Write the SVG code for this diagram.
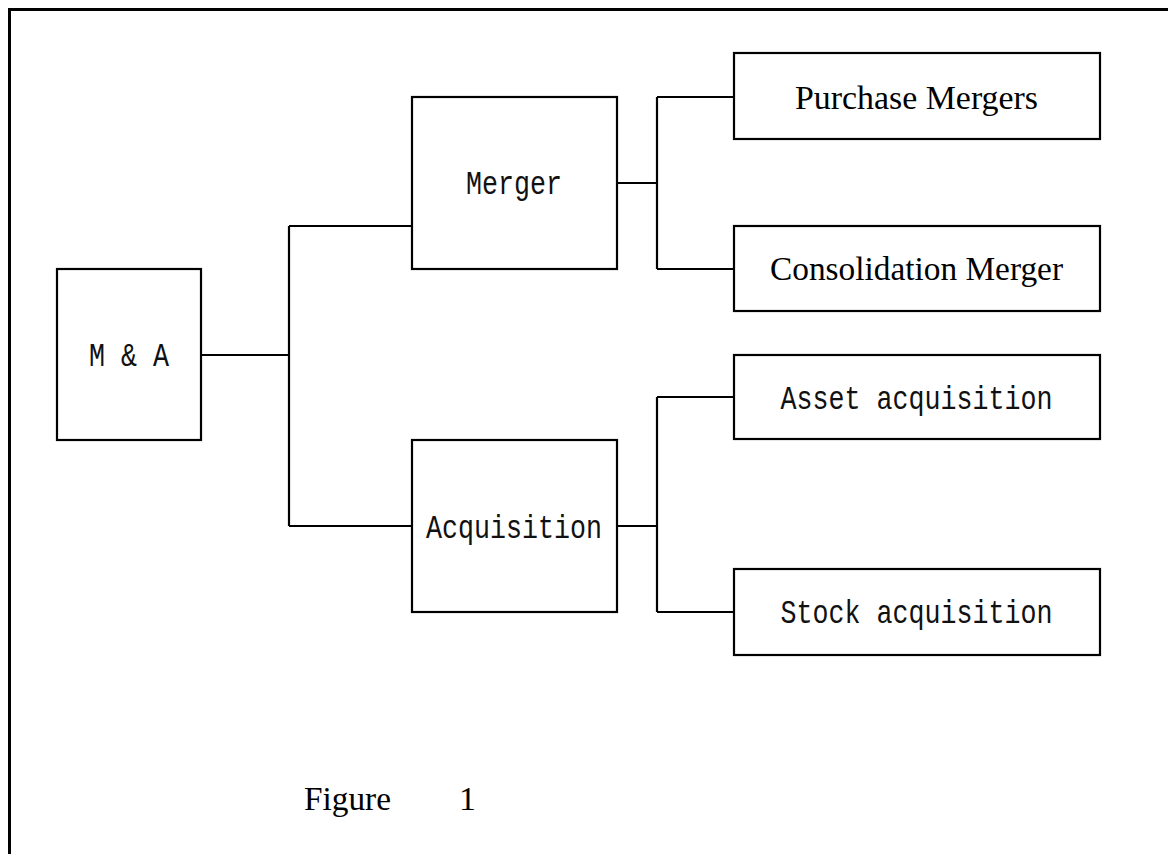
<svg xmlns="http://www.w3.org/2000/svg" width="1168" height="854" viewBox="0 0 1168 854">
<style>
.box{fill:#fff;stroke:#000;stroke-width:2.2}
.con{fill:none;stroke:#000;stroke-width:2.2}
.mono{font-family:"Liberation Mono",monospace;font-size:33px;fill:#111;text-anchor:middle}
.serif{font-family:"Liberation Serif",serif;font-size:34px;fill:#000;text-anchor:middle}
</style>
<rect x="0" y="0" width="1168" height="854" fill="#fff"/>
<path d="M9.5,854 V9.5 H1168" fill="none" stroke="#000" stroke-width="3"/>
<g id="connectors">
<path class="con" d="M201,355 H289 M289,226 V526 M289,226 H412 M289,526 H412"/>
<path class="con" d="M617,183 H657 M657,97 V269 M657,97 H734 M657,269 H734"/>
<path class="con" d="M617,526 H657 M657,397 V612 M657,397 H734 M657,612 H734"/>
</g>
<g id="node-ma">
<rect class="box" x="57" y="269" width="144" height="171"/>
<text class="mono" x="129" y="366" textLength="80" lengthAdjust="spacingAndGlyphs">M &amp; A</text>
</g>
<g id="node-merger">
<rect class="box" x="412" y="97" width="205" height="172"/>
<text class="mono" x="514" y="194" textLength="96" lengthAdjust="spacingAndGlyphs">Merger</text>
</g>
<g id="node-acquisition">
<rect class="box" x="412" y="440" width="205" height="172"/>
<text class="mono" x="514" y="538" textLength="176" lengthAdjust="spacingAndGlyphs">Acquisition</text>
</g>
<g id="node-purchase">
<rect class="box" x="734" y="53" width="366" height="86"/>
<text class="serif" x="916.5" y="109" textLength="243" lengthAdjust="spacingAndGlyphs">Purchase Mergers</text>
</g>
<g id="node-consolidation">
<rect class="box" x="734" y="226" width="366" height="85"/>
<text class="serif" x="916.5" y="280" textLength="293" lengthAdjust="spacingAndGlyphs">Consolidation Merger</text>
</g>
<g id="node-asset">
<rect class="box" x="734" y="355" width="366" height="84"/>
<text class="mono" x="916.5" y="409" textLength="272" lengthAdjust="spacingAndGlyphs">Asset acquisition</text>
</g>
<g id="node-stock">
<rect class="box" x="734" y="569" width="366" height="86"/>
<text class="mono" x="916.5" y="623" textLength="272" lengthAdjust="spacingAndGlyphs">Stock acquisition</text>
</g>
<g id="caption">
<text x="304" y="810" font-family="Liberation Serif,serif" font-size="34" fill="#000" textLength="87" lengthAdjust="spacingAndGlyphs">Figure</text>
<text x="459" y="810" font-family="Liberation Serif,serif" font-size="34" fill="#000">1</text>
</g>
</svg>
